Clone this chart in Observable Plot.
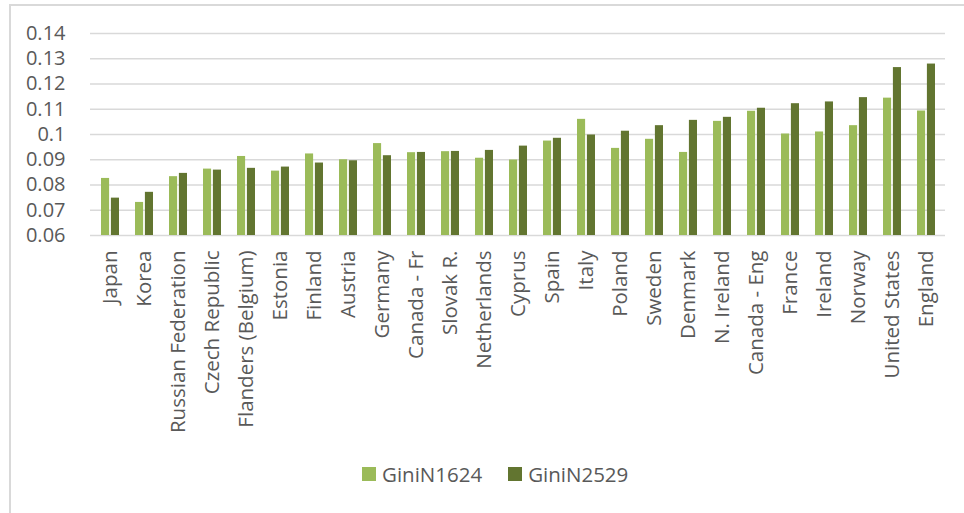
<!DOCTYPE html>
<html>
<head>
<meta charset="utf-8">
<script src="https://cdn.jsdelivr.net/npm/d3@7"></script>
<script src="https://cdn.jsdelivr.net/npm/@observablehq/plot@0.6"></script>
<style>
  html, body { margin: 0; padding: 0; background: #fff; }
  body { width: 964px; height: 513px; position: relative; overflow: hidden; font-family: "Open Sans", sans-serif; }
  #frame { position: absolute; left: 9px; top: 4px; width: 1000px; height: 600px; border-left: 2px solid #d9d9d9; border-top: 2px solid #d9d9d9; }
  #chart { position: absolute; left: 0; top: 0; }
  #legend { position: absolute; left: 362px; top: 460px; display: flex; align-items: center; font-size: 20.5px; color: #595959; }
  .item { display: flex; align-items: center; margin-right: 26px; }
  .sw { width: 14px; height: 14px; margin-right: 6px; }
</style>
</head>
<body>
<div id="frame"></div>
<div id="chart"></div>
<div id="legend"></div>
<script>
const countries = ["Japan","Korea","Russian Federation","Czech Republic","Flanders (Belgium)","Estonia","Finland","Austria","Germany","Canada - Fr","Slovak R.","Netherlands","Cyprus","Spain","Italy","Poland","Sweden","Denmark","N. Ireland","Canada - Eng","France","Ireland","Norway","United States","England"];
const series = ["GiniN1624","GiniN2529"];
const gini1624 = [0.0826,0.0731,0.0833,0.0863,0.0913,0.0855,0.0923,0.0900,0.0964,0.0928,0.0932,0.0906,0.0899,0.0974,0.1060,0.0945,0.0981,0.0929,0.1052,0.1092,0.1002,0.1010,0.1035,0.1144,0.1093];
const gini2529 = [0.0748,0.0771,0.0846,0.0859,0.0866,0.0871,0.0887,0.0896,0.0916,0.0929,0.0933,0.0937,0.0954,0.0985,0.0998,0.1013,0.1035,0.1056,0.1068,0.1104,0.1122,0.1129,0.1146,0.1265,0.1279];
const yTicks = [0.06,0.07,0.08,0.09,0.10,0.11,0.12,0.13,0.14];
const colors = ["#9bbb59","#627530"];

const rows1 = countries.map((c, i) => ({country: c, series: series[0], value: gini1624[i]}));
const rows2 = countries.map((c, i) => ({country: c, series: series[1], value: gini2529[i]}));

const halfInset = 9.9;

const chart = Plot.plot({
  width: 964,
  height: 445,
  marginLeft: 90,
  marginRight: 19,
  marginTop: 33,
  marginBottom: 210,
  style: {fontFamily: "'Open Sans', sans-serif", fontSize: "20px", color: "#595959", background: "transparent"},
  x: {domain: countries, paddingInner: 0.48, paddingOuter: 0.24, label: null},
  y: {domain: [0.06, 0.14], label: null},
  color: {domain: series, range: colors},
  marks: [
    Plot.ruleY(yTicks, {stroke: "#d9d9d9", strokeWidth: 1.3}),
    Plot.axisY(yTicks, {tickSize: 0, tickPadding: 25, label: null, tickFormat: d => String(+d.toFixed(2)), fontSize: 20}),
    Plot.axisX({tickRotate: -90, tickSize: 0, tickPadding: 15, label: null, fontSize: 20.5}),
    Plot.barY(rows1, {x: "country", y: "value", fill: "series", insetRight: halfInset, clip: true}),
    Plot.barY(rows2, {x: "country", y: "value", fill: "series", insetLeft: halfInset, clip: true})
  ]
});
document.getElementById("chart").appendChild(chart);

const legend = document.getElementById("legend");
series.forEach((s, i) => {
  const item = document.createElement("div");
  item.className = "item";
  const sw = document.createElement("div");
  sw.className = "sw";
  sw.style.background = colors[i];
  const t = document.createElement("span");
  t.textContent = s;
  item.appendChild(sw);
  item.appendChild(t);
  legend.appendChild(item);
});
</script>
</body>
</html>
